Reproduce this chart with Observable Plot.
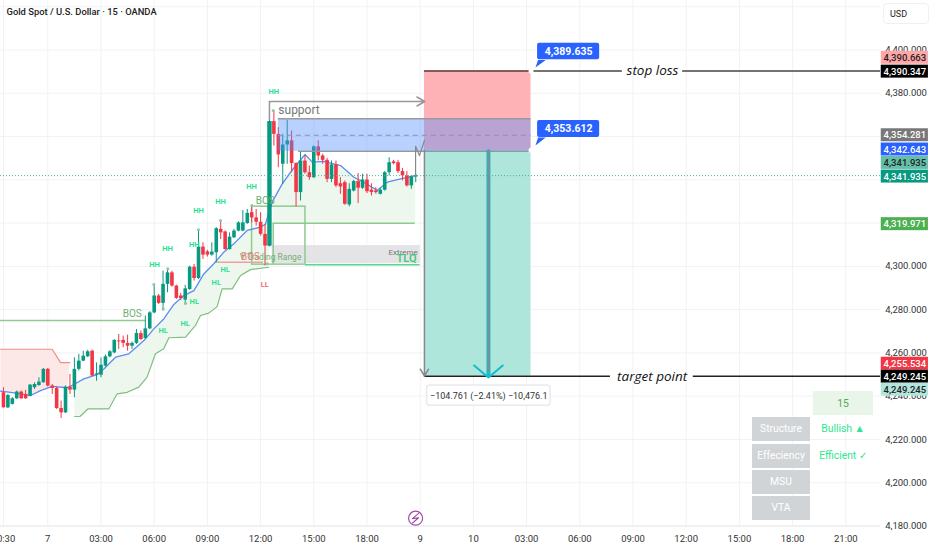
<!DOCTYPE html>
<html><head><meta charset="utf-8">
<script src="https://cdn.jsdelivr.net/npm/d3@7"></script>
<script src="https://cdn.jsdelivr.net/npm/@observablehq/plot@0.6"></script>
<style>
html,body{margin:0;padding:0;background:#fff;overflow:hidden}
#wrap{position:relative;width:932px;height:550px;overflow:hidden}
.cell{position:absolute;display:flex;align-items:center;justify-content:center;font:10.3px Roboto,sans-serif;box-sizing:border-box}
</style></head><body><div id="wrap"></div>
<script>
// candle open hour = hours since the "7" tick; one candle every 15 minutes
const firstHour = -2.5, stepHour = 0.25;
const opens = [4241.6,4234.6,4236.2,4238.8,4241.9,4240.8,4240,4243.9,4244.9,4246.2,4252.4,4244.7,4243.6,4234.3,4232.3,4244.2,4242.8,4252.4,4256.2,4258.2,4260.8,4249.7,4249.7,4253.9,4258.2,4260,4265.5,4265.8,4264.4,4263.1,4264.4,4268.9,4266.7,4271.1,4278.5,4286.3,4282.9,4291.7,4297,4290.9,4286.3,4284.4,4289.3,4299.6,4294.4,4308.9,4306.7,4305.2,4306.3,4317.1,4315.9,4307.8,4313.2,4316.3,4316.3,4319.8,4324.8,4322.4,4320.4,4314.8,4309.4,4366.9,4361,4347.2,4356.1,4358,4347.5,4334.1,4348.7,4343.3,4341,4355.2,4351,4349,4340.2,4346.9,4338.2,4338.7,4328.4,4334.8,4339.2,4336.1,4339.9,4335.2,4334.8,4333.3,4335.2,4343.3,4348.3,4347.9,4343.8,4341.8,4337.2,4341.3];
const highs = [4243.9,4240.8,4239.3,4242.4,4242.4,4242.7,4245.4,4246.2,4248.5,4252.8,4252.8,4245.4,4244.2,4237.7,4244.7,4250,4257.7,4259.3,4260.8,4261.2,4261.3,4255.4,4257.7,4259,4261,4266.1,4268.5,4267.8,4268.2,4265,4270.8,4270.1,4277,4279,4291.7,4287,4297.8,4298.6,4297.8,4291.3,4287.5,4291.2,4300.1,4300.9,4316.6,4310.9,4307.4,4310.9,4317.9,4320.9,4316.3,4315.5,4317.1,4320.6,4325.8,4326.3,4328.3,4326.3,4324.8,4319.4,4371.8,4371.8,4364.1,4361,4367.5,4362.6,4347.9,4353,4351,4346.4,4355.7,4358,4351.8,4349.9,4348.7,4348.7,4341,4339.5,4338.2,4339.8,4342.9,4342.6,4342.6,4338.2,4336.4,4336.1,4343.8,4350.2,4349,4349,4345.3,4343.8,4341.8,4342.6];
const lows = [4234.6,4234.3,4235.9,4238.5,4238.5,4238.5,4239.8,4243.1,4244.6,4246,4244.2,4240.8,4233.9,4229.7,4232,4240.8,4239.3,4251.6,4255.9,4257.9,4249,4246.9,4248.5,4253.4,4257.7,4259.6,4261.6,4262.4,4260.8,4261.6,4263.9,4265.8,4266.2,4270.8,4278.1,4282.4,4279.3,4287.8,4290.4,4284.7,4284.2,4282.1,4288.9,4293.2,4293.9,4303.2,4304.3,4304.7,4301.6,4312.4,4307.4,4307.5,4312.9,4316,4316,4319.4,4320.1,4318.6,4314,4300.2,4309,4355.6,4345.6,4337.9,4347.2,4343.3,4327.5,4330.2,4342.6,4339.8,4340.5,4348.7,4347.2,4338.7,4338.7,4336.4,4333.3,4328.2,4327.5,4334.4,4329,4335.6,4333.6,4332.5,4333.3,4333,4334.8,4341.8,4346.9,4342.9,4339.5,4336.7,4335.6,4338.7];
const closes = [4234.6,4240.3,4238.8,4241.9,4238.8,4238.8,4245.1,4245.4,4246.5,4252.4,4244.7,4243.6,4234.3,4232.3,4244.2,4242.8,4252.4,4256.2,4258.5,4260.5,4249.3,4250.3,4254.3,4258.2,4260.5,4265.8,4265.1,4264.4,4263.1,4264.4,4269,4266.2,4271.1,4278.5,4286.3,4282.9,4291.7,4297,4290.9,4285.2,4285.2,4289.6,4299.6,4294.4,4308.9,4305.2,4305.2,4306.6,4317.4,4315.5,4307.8,4313.5,4316.3,4320.1,4320.1,4324.5,4322.4,4320.4,4314.8,4309.4,4366.9,4361,4351.5,4356.1,4358,4347.5,4334.1,4348.7,4343.3,4341,4355.2,4351,4349,4340.2,4346.9,4337.2,4336.7,4328.7,4335.6,4339.2,4336.1,4339.9,4334.5,4334.1,4334.1,4335.2,4343.3,4347.9,4347.5,4343.8,4341.8,4337.2,4341.3,4341.9];

// moving average
const maHours = [-2.667,-2.1,-1.54,-0.97,-0.41,0.25,1.09,1.47,2.03,2.78,3.16,3.82,4.57,5.42,5.98,6.54,7.11,7.67,8.24,8.8,9.36,9.93,10.49,11.24,11.99,12.28,12.52,12.75,13.22,13.69,14.06,14.51,14.91,15.57,16.51,17.26,17.82,18.57,19.14,19.89,20.73];
const maPrices = [4242.3,4241.8,4241.1,4240.3,4242.6,4244.5,4243.9,4245.4,4248,4250,4252.6,4258,4259.6,4265.7,4271.1,4275.7,4282.4,4286.5,4288.8,4296.5,4301.2,4306.6,4310.4,4316.6,4318.1,4319.6,4326.6,4331.2,4338.1,4343.5,4347.4,4351.7,4348.2,4348.5,4346.6,4341.2,4338.9,4335.1,4338.9,4340.4,4342];
// lower trailing band
const bandHours = [1.51,1.81,2.26,3.44,3.91,4.48,5.13,5.6,6.07,6.54,6.83,7.77,8.33,8.61,9.08,9.55,9.83,10.4,10.87,11.43,12.46];
const bandPrices = [4230.6,4230.6,4234.1,4234.1,4241.1,4241.8,4244.2,4248.8,4259.6,4261.9,4267,4267.3,4272.7,4277.3,4278.4,4281.4,4289.6,4289.6,4295.8,4298.5,4299.6];
// upper red band
const redHours = [-2.667,0.25,0.72,1.24];
const redPrices = [4261.7,4261.7,4255.5,4255.5];

const hhHours=[6.02,6.75,8.26,8.5,9.74,11.49,12.74], hhPrices=[4300.9,4308.1,4310,4325.7,4330.1,4336.8,4380.8];
const hlHours=[6.51,7.75,8.26,9.5,10], hlPrices=[4270.5,4273.6,4283.9,4292.7,4298.5];
const pivotHours=[5.98,6.77,8.5,9.74,11.51,6.51,7.77,12.37,12.71], pivotPrices=[4291.6,4298.9,4316.9,4321.2,4328.1,4280.4,4283,4301.2,4372];

const xTickHours=[-2.5,0,3,6,9,12,15,18,21,24,27,30,33,36,39,42,45];
const xTickLabels=["20:30","7","03:00","06:00","09:00","12:00","15:00","18:00","9","10","03:00","06:00","09:00","12:00","15:00","18:00","21:00"];
const yGrid=[4180,4200,4220,4240,4260,4280,4300,4320,4340,4360,4380,4400,4420];
const yLabels=[4180,4200,4220,4240,4260,4280,4300,4380,4400];

// price tags: text, centre (price scale), fill, ink
const tagTexts=["4,390.663","4,390.347","4,354.281","4,342.643","4,341.935","4,341.935","4,319.971","4,255.534","4,249.245","4,249.245"];
const tagCentres=[4396.4,4390.0,4360.6,4354.0,4347.8,4341.5,4319.5,4255.0,4249.0,4243.0];
const tagFills=["#ffa6a8","#000000","#787878","#2962ff","#63bfa9","#089981","#4caf50","#f23645","#000000","#b2e6dc"];
const tagInks=["#222","#fff","#fff","#fff","#222","#fff","#fff","#fff","#fff","#222"];

const entry=4353.612, stop=4390.347, target=4249.245, last=4341.935;
const axisEdge=46.96, posLeft=21.24, posRight=27.25, posMid=24.85;

const pts=(xs,ys)=>xs.map((x,i)=>({x,y:ys[i]}));
const candles=opens.map((o,i)=>({x:firstHour+i*stepHour,o,h:highs[i],l:lows[i],c:closes[i]}));
const up=candles.filter(d=>d.c>=d.o), down=candles.filter(d=>d.c<d.o);
const bigBar=candles.filter(d=>d.c-d.o>40);
const ma=pts(maHours,maPrices), band=pts(bandHours,bandPrices), red=pts(redHours,redPrices);
const rev=a=>a.slice().reverse();
const greenFillA=[...band,...rev(ma.filter(d=>d.x>=1.47&&d.x<=12.52))];
const greenFillB=[{x:12.71,y:4319.971},{x:20.72,y:4319.971},...rev(ma.filter(d=>d.x>=12.75)),{x:12.71,y:4330}];
const redFill=[...red,...rev(ma.filter(d=>d.x<=1.09))];
const F="Roboto, sans-serif", GREEN="#089981", RED="#f23645", PALE="#8fca8f", LABEL="#22e08f";
const hline=(x1,x2,y,stroke,strokeWidth=1.5,extra={})=>Plot.ruleY([y],{x1,x2,stroke,strokeWidth,...extra});
const vline=(x,y1,y2,stroke,strokeWidth=1.5)=>Plot.ruleX([x],{y1,y2,stroke,strokeWidth});
const box=(x1,x2,y1,y2,fill,extra={})=>Plot.rect([0],{x1,x2,y1,y2,fill,...extra});
const note=(x,y,text,extra={})=>Plot.text([text],{x,y,text:d=>d,fontFamily:F,...extra});
const poly=(rows,fill)=>Plot.line(rows,{x:"x",y:"y",fill,stroke:"none"});
const path=(rows,stroke,strokeWidth=1)=>Plot.line(rows,{x:"x",y:"y",stroke,strokeWidth});

const tags=tagTexts.map((text,i)=>({text,y:tagCentres[i],fill:tagFills[i],ink:tagInks[i]}));

const chart=Plot.plot({
  width:932,height:550,marginTop:0,marginLeft:0,marginRight:0,marginBottom:24.5,
  style:{background:"#fff",fontFamily:F},
  x:{domain:[-2.667,49.89],axis:null},
  y:{domain:[4180,4422.88],axis:null},
  marks:[
    // grid
    Plot.ruleX(xTickHours,{y1:4180,y2:4422.88,stroke:"#f1f2f4",strokeWidth:1}),
    Plot.ruleY(yGrid,{x1:-2.667,x2:axisEdge,stroke:"#f1f2f4",strokeWidth:1}),
    hline(-2.667,axisEdge,4180,"#e8e9ec",1),
    // indicator fills
    poly(redFill,"#fde8e8"),
    poly(greenFillA,"#eef7ee"),
    poly(greenFillB,"#eef7ee"),
    box(12.65,21.01,4301.2,4309.6,"#e4e4e7"),
    // indicator lines
    path(red,"#f28b8b",1.2),
    path(band,"#7fbf7f",1.2),
    hline(-2.667,5.51,4275,PALE,1.5),
    hline(12.71,20.72,4319.971,PALE,1.5),
    vline(12.71,4300.4,4319.971,PALE,1.5),
    Plot.rect([0],{x1:11.52,x2:14.53,y1:4300.8,y2:4327.6,fill:"none",stroke:PALE,strokeWidth:1.5}),
    hline(9.55,12.16,4301.9,"#f0a0a0",1.5),
    hline(14.53,21,4300.8,"#55d98c",1.5),
    // position tool
    box(posLeft,posRight,entry,stop,"#ffb2b5"),
    box(posLeft,posRight,target,entry,"#aee6db"),
    path(ma,"#5b8def",1.3),
    // candles
    Plot.ruleX(up,{x:"x",y1:"l",y2:"h",stroke:GREEN,strokeWidth:1}),
    Plot.ruleX(down,{x:"x",y1:"l",y2:"h",stroke:RED,strokeWidth:1}),
    Plot.ruleX(up,{x:"x",y1:"o",y2:"c",stroke:GREEN,strokeWidth:3.6}),
    Plot.ruleX(down,{x:"x",y1:"o",y2:"c",stroke:RED,strokeWidth:3.6}),
    Plot.ruleX(bigBar,{x:"x",y1:"o",y2:"c",stroke:GREEN,strokeWidth:4.2}),
    Plot.dot(pts(pivotHours,pivotPrices),{x:"x",y:"y",r:1.5,fill:"#8fc7a4",stroke:"none"}),
    // supply box
    box(13,posRight,4353.2,4368.2,"#4d8bff",{fillOpacity:0.4}),
    hline(13,posRight,4368.2,"#9a9a9a",1.5),
    hline(14.14,posRight,4353.2,"#8f9aa8",1.5),
    hline(13,posRight,4360.6,"#8a93a5",1,{strokeDasharray:"5,4"}),
    // stop and target lines
    hline(posLeft,posRight,stop,"#5a3a3a",1.5),
    hline(27.39,32.4,stop,"#444",1.5),
    hline(35.8,axisEdge,stop,"#444",1.5),
    hline(posLeft,31.73,target,"#222",1.5),
    hline(36.4,axisEdge,target,"#222",1.5),
    note(34.1,stop,"stop loss",{fontSize:13.5,fontStyle:"italic",fontFamily:"Open Sans, sans-serif",fill:"#111"}),
    note(34.08,target,"target point",{fontSize:13.5,fontStyle:"italic",fontFamily:"Open Sans, sans-serif",fill:"#111"}),
    // arrows
    vline(12.5,4367.4,4376.2,"#999",1.5),
    Plot.arrow([0],{x1:12.5,y1:4376.2,x2:21.26,y2:4376.2,bend:0,stroke:"#999",strokeWidth:1.5,headLength:9}),
    Plot.arrow([0],{x1:posLeft,y1:entry,x2:posLeft,y2:target,bend:0,stroke:"#888",strokeWidth:1.5,headLength:8}),
    vline(posMid,target,entry,"#19bccf",4),
    Plot.arrow([0],{x1:posMid,y1:entry,x2:posMid,y2:target-0.6,bend:0,stroke:"#14bccf",strokeWidth:2,headLength:14,headAngle:100}),
    vline(posMid,target+2,entry,"#8a8a8a",2),
    path(pts([20.74,20.74,20.96,21.24],[4341.8,4355.5,4351.2,4358.2]),"#888",1.2),
    Plot.dot([[posRight,stop],[posRight,entry]],{x:"0",y:"1",r:2.5,fill:"#fff",stroke:"none"}),
    // labels
    Plot.text(pts(hhHours,hhPrices),{x:"x",y:"y",text:()=>"HH",fontSize:7.5,fontWeight:600,fill:LABEL,fontFamily:F}),
    Plot.text(pts(hlHours,hlPrices),{x:"x",y:"y",text:()=>"HL",fontSize:7.5,fontWeight:600,fill:LABEL,fontFamily:F}),
    note(12.24,4291.6,"LL",{fontSize:7.5,fontWeight:600,fill:"#f36b6b"}),
    note(4.76,4277.9,"BOS",{fontSize:10,fill:"#6fb06f"}),
    note(12.26,4330.4,"BOS",{fontSize:10,fill:"#6fb06f"}),
    note(12.56,4304.2,"V Trading Range",{fontSize:8.5,fill:"#6fb06f"}),
    note(11.43,4304.6,"BOS",{fontSize:10,fill:"#ef7d7d"}),
    note(20.04,4306.5,"Extreme",{fontSize:8,fill:"#777"}),
    note(20.23,4303.8,"TLQ",{fontSize:11,fontWeight:600,fill:"#45c97a"}),
    note(13,4372,"support",{fontSize:12,fill:"#777",textAnchor:"start"}),
    // blue callouts
    poly(pts([27.65,28.08,27.5],[4395.4,4395.4,4391.9]),"#2962ff"),
    poly(pts([27.65,28.08,27.5],[4359.6,4359.6,4355.9]),"#2962ff"),
    box(27.62,31.12,4395.5,4403.1,"#2962ff",{rx:2}),
    box(27.62,31.12,4359.6,4367.4,"#2962ff",{rx:2}),
    note(29.37,4399.4,"4,389.635",{fontSize:10.5,fontWeight:700,fill:"#fff"}),
    note(29.37,4363.6,"4,353.612",{fontSize:10.5,fontWeight:700,fill:"#fff"}),
    // result pill
    box(21.39,28.35,4235.6,4244.9,"#fff",{rx:3,stroke:"#e9eaed",strokeWidth:1.5}),
    note(24.87,4240.2,"\u2212104.761 (\u22122.41%) \u221210,476.1",{fontSize:9,fill:"#333"}),
    // event icon
    Plot.dot([[20.74,4183.6]],{x:"0",y:"1",r:7,fill:"#fff",stroke:"#a24aa6",strokeWidth:1.2}),
    path(pts([20.91,20.57,20.91,20.57],[4185.8,4183.4,4183.8,4181.4]),"#a24aa6",1.1),
    // axes
    Plot.axisX({anchor:"bottom",ticks:xTickHours,tickSize:0,tickPadding:9,fontSize:9.5,tickFormat:d=>xTickLabels[xTickHours.indexOf(d)],label:null,fill:"#333",fontFamily:F}),
    Plot.text(yLabels,{x:48.4,y:d=>d,text:d=>d3.format(",.3f")(d),fontSize:9.5,fill:"#333",fontFamily:F}),
    // price tags
    Plot.rect(tags,{x1:47,x2:49.66,y1:d=>d.y-3,y2:d=>d.y+3,fill:d=>d.fill}),
    Plot.text(tags,{x:48.33,y:"y",text:"text",fill:d=>d.ink,fontSize:9.5,fontWeight:500,fontFamily:F}),
    // dotted last price
    hline(-2.667,axisEdge,last,"#3fb39e",1,{strokeDasharray:"1,2"}),
    // title
    Plot.text(["Gold Spot / U.S. Dollar \u00B7 15 \u00B7 OANDA"],{frameAnchor:"top-left",text:d=>d,dx:6,dy:8,fontSize:9.4,fontWeight:500,fill:"#222",fontFamily:F})
  ],
  color:{type:"identity"}
});
const wrap=document.getElementById("wrap");
wrap.appendChild(chart);
// information table and currency button
const cell=(left,top,w,h,text,bg,color,extra="")=>{
  const d=document.createElement("div");d.className="cell";d.textContent=text;
  d.style.cssText=`left:${left}px;top:${top}px;width:${w}px;height:${h}px;background:${bg};color:${color};${extra}`;
  wrap.appendChild(d);
};
const rowNames=["Structure","Effeciency","MSU","VTA"];
const rowTops=[417,444,470,496];
rowNames.forEach((n,i)=>cell(752,rowTops[i],58,23.5,n,"#d1d4d6","#fff"));
cell(813,391,60,24,"15","#eaf5ea","#4caf50");
cell(813,417,60,23.5,"Bullish \u25B2","transparent","#2ee68e");
cell(813,444,60,23.5,"Efficient \u2713","transparent","#2ee68e");
cell(883,3,46,21,"USD","#fff","#222","border:1px solid #eef0f3;border-radius:4px;font-size:9px;justify-content:flex-start;padding-left:6px;");
</script></body></html>
